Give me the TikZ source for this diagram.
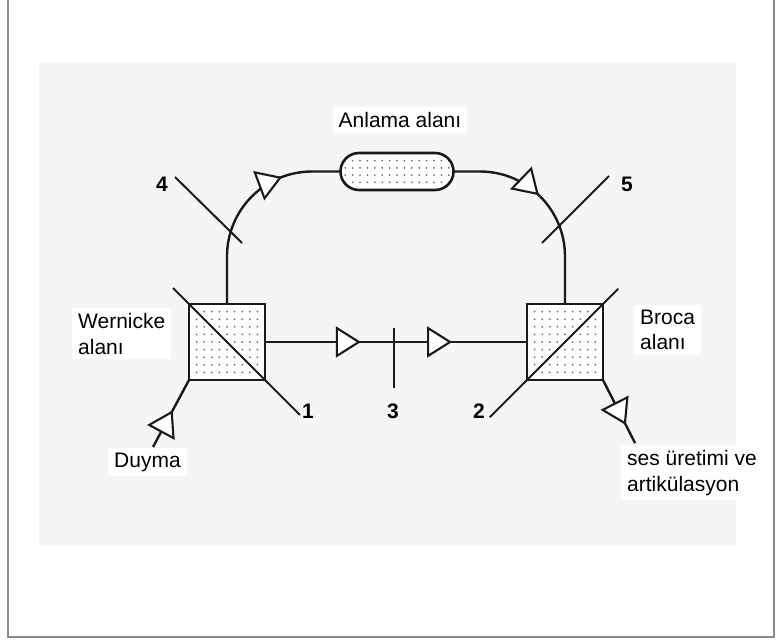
\documentclass[tikz,border=0pt]{standalone}
\usepackage{fontspec}
\setmainfont{Liberation Sans}
\usetikzlibrary{arrows.meta, positioning, calc, shapes.misc, decorations.markings}

\definecolor{panelgray}{HTML}{F5F5F5}
\definecolor{framegray}{HTML}{8A8A8A}
\definecolor{dotgray}{HTML}{707070}
\definecolor{ink}{HTML}{1A1A1A}

\tikzset{
  tri/.tip = {Triangle[length=25pt, width=31pt, fill=white]},
  arr/.style = {postaction={decorate, decoration={markings,
      mark=at position #1 with {\arrow[line width=2.1pt]{tri}}}}},
  flow/.style = {draw=ink, line width=2.4pt},
  tick/.style = {draw=ink, line width=2pt},
  area/.style = {draw=ink, line width=2.6pt, fill=white, minimum size=76pt,
    inner sep=0pt, outer sep=0pt},
  pill/.style = {draw=ink, line width=2.6pt, fill=white, rounded rectangle,
    minimum width=113pt, minimum height=37pt, inner sep=0pt, outer sep=0pt},
  sqdots/.style = {path picture={
    \foreach \i in {-4,...,4}
      \foreach \j in {-4,...,4}
        \fill[dotgray] ([shift={(\i*7.6,\j*7.6)}]path picture bounding box.center) circle (1);}},
  pilldots/.style = {path picture={
    \foreach \i in {-7,...,7}
      \foreach \j in {-1.5,-0.5,0.5,1.5}
        \fill[dotgray] ([shift={(\i*7.4,\j*7.2)}]path picture bounding box.center) circle (1);}},
  txt/.style = {font=\fontsize{21}{25.5}\selectfont, fill=white, inner xsep=6pt,
    inner ysep=5pt, align=left},
  num/.style = {font=\fontsize{21}{24}\selectfont\bfseries, inner sep=1pt}
}

\begin{document}
\begin{tikzpicture}[x=1pt, y=-1pt]
\useasboundingbox (0,0) rectangle (777,640);

% frame and grey panel
\draw[framegray, line width=1.3pt] (8,-2) -- (8,637) -- (774,637) -- (774,-2);
\fill[panelgray] (39,63) rectangle (736,545);

% the three areas
\node (wernicke) [area, sqdots] at (227,342) {};
\node (broca) [area, sqdots] at (565,342) {};
\node (anlama) [pill, pilldots] at (397,171.5) {};

% labels (base of a two-line node sits on its last line)
\node (anlamatxt) [txt, anchor=base] at (400,127.5) {Anlama alanı};
\node (wernicketxt) [txt, anchor=base west] at (72,354) {Wernicke\\alanı};
\node (brocatxt) [txt, anchor=base west] at (634,349.5) {Broca\\alanı};
\node (duymatxt) [txt, anchor=base west] at (108,467) {Duyma};
\node (sestxt) [txt, anchor=base west] at (621,491) {ses üretimi ve\\artikülasyon};

% free ends of in/out paths
\coordinate (duymaend) at (153,447);
\coordinate (sesend) at (635,443);

% connections
\draw[flow, arr=0.546] (duymaend) -- (wernicke.south west);
\draw[flow, rounded corners=85, arr=0.718] (wernicke.north) |- (anlama.west);
\draw[flow, rounded corners=85, arr=0.441] (anlama.east) -| (broca.north);
\draw[flow, arr=0.366, arr=0.714] (wernicke.east) -- (broca.west);
\draw[flow, arr=0.714] (broca.south east) -- (sesend);

% lesion marks
\coordinate (t1a) at ($(wernicke.north west)!-0.21!(wernicke.south east)$);
\coordinate (t1b) at ($(wernicke.south east)!-0.46!(wernicke.north west)$);
\coordinate (t2a) at ($(broca.south west)!-0.49!(broca.north east)$);
\coordinate (t2b) at ($(broca.north east)!-0.2!(broca.south west)$);
\coordinate (t3a) at (394,328);
\coordinate (t3b) at (394,388);
\coordinate (t4a) at (175,177);
\coordinate (t4b) at (242,243);
\coordinate (t5a) at (542,243);
\coordinate (t5b) at (609,176);

\draw[tick] (t1a) -- (t1b);
\draw[tick] (t2a) -- (t2b);
\draw[tick] (t3a) -- (t3b);
\draw[tick] (t4a) -- (t4b);
\draw[tick] (t5a) -- (t5b);

\node (n1) [num, anchor=base] at (308,418) {1};
\node (n2) [num, anchor=base] at (479,418) {2};
\node (n3) [num, anchor=base] at (393,418) {3};
\node (n4) [num, anchor=base] at (162,191) {4};
\node (n5) [num, anchor=base] at (627,191) {5};

\end{tikzpicture}
\end{document}
